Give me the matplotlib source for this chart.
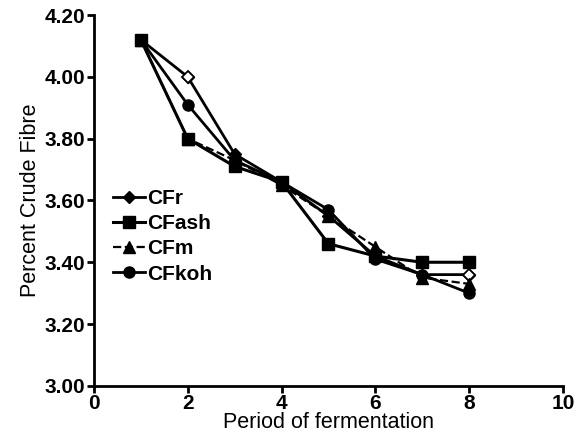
import matplotlib

matplotlib.use("Agg")
import matplotlib.pyplot as plt

plt.rcParams["font.family"] = ["Liberation Sans", "DejaVu Sans"]
plt.rcParams["font.weight"] = "bold"

period = [1, 2, 3, 4, 5, 6, 7, 8]
cf_r = [4.12, 4.00, 3.75, 3.66, 3.55, 3.42, 3.36, 3.36]
cf_ash = [4.12, 3.80, 3.71, 3.66, 3.46, 3.42, 3.40, 3.40]
cf_m = [4.12, 3.80, 3.73, 3.65, 3.55, 3.45, 3.35, 3.33]
cf_koh = [4.12, 3.91, 3.73, 3.66, 3.57, 3.41, 3.36, 3.30]

x_ticks = [0, 2, 4, 6, 8, 10]
y_ticks = [3.00, 3.20, 3.40, 3.60, 3.80, 4.00, 4.20]

fig = plt.figure(figsize=(5.87, 4.42), dpi=100)
ax = fig.add_axes([0.160, 0.127, 0.799, 0.839])

ax.plot(period, cf_r, "-", color="black", lw=2.0, marker="D", ms=6, label="CFr")
# open diamonds where the original shows hollow markers
ax.plot([period[1], period[7]], [cf_r[1], cf_r[7]], "D", ms=6,
        mfc="white", mec="black", mew=1.3)
ax.plot(period, cf_ash, "-", color="black", lw=2.2, marker="s", ms=8, label="CFash")
ax.plot(period, cf_m, "--", color="black", lw=1.6, marker="^", ms=8, label="CFm")
ax.plot(period, cf_koh, "-", color="black", lw=2.0, marker="o", ms=8, label="CFkoh")

ax.set_xlim(0, 10)
ax.set_ylim(3.0, 4.2)
ax.set_xticks(x_ticks)
ax.set_yticks(y_ticks)
ax.set_yticklabels([f"{v:.2f}" for v in y_ticks])
ax.set_xlabel("Period of fermentation", fontsize=15.5, labelpad=-1)
ax.set_ylabel("Percent Crude Fibre", fontsize=15.5, labelpad=3)

for s in ("top", "right"):
    ax.spines[s].set_visible(False)
for s in ("left", "bottom"):
    ax.spines[s].set_linewidth(2)
ax.tick_params(width=2, length=5, labelsize=15, pad=1)

ax.legend(loc="upper left", bbox_to_anchor=(0.015, 0.565), frameon=False,
          fontsize=15, handlelength=1.5, handletextpad=0.1, labelspacing=0.3,
          borderaxespad=0.2)

fig.savefig("out.png", dpi=100)
